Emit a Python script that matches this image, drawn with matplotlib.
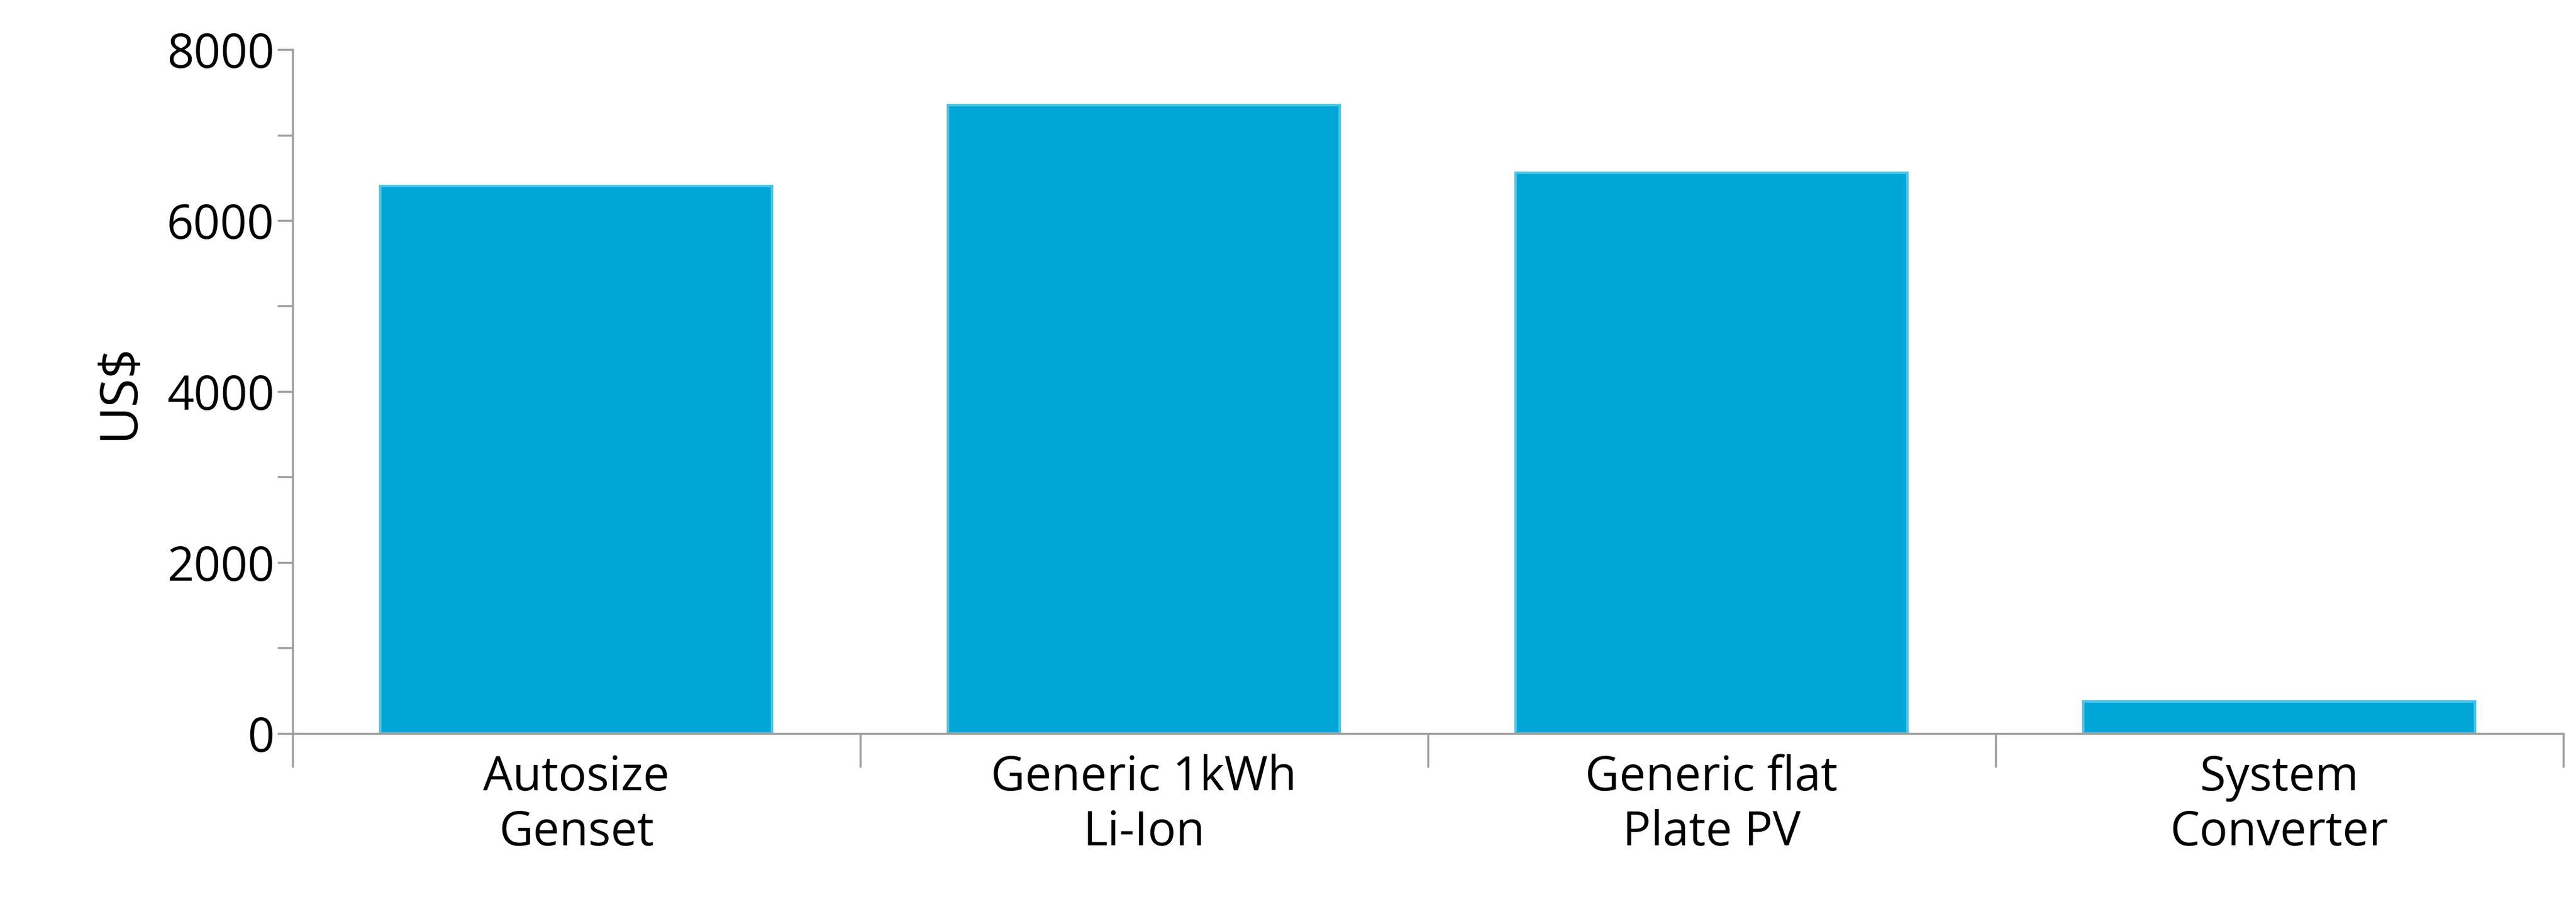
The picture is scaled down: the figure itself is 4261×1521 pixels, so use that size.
import numpy as np
import matplotlib.pyplot as plt
from matplotlib.ticker import MultipleLocator

plt.rcParams['font.family'] = ['Open Sans', 'DejaVu Sans']

categories = ["Autosize\nGenset", "Generic 1kWh\nLi-Ion", "Generic flat\nPlate PV", "System\nConverter"]
costs = [6400, 7350, 6560, 370]

fig = plt.figure(figsize=(42.61, 15.21), dpi=100)
ax = fig.add_axes([0.1135, 0.202, 0.8815, 0.744])

x = np.arange(len(categories))
ax.bar(x, costs, width=0.69, color='#00A6D6', edgecolor='#4FC3E6', linewidth=3)

ax.set_xlim(-0.5, len(categories) - 0.5)
ax.set_ylim(0, 8000)
ax.yaxis.set_major_locator(MultipleLocator(2000))
ax.yaxis.set_minor_locator(MultipleLocator(1000))
ax.set_yticks([0, 2000, 4000, 6000, 8000])
ax.tick_params(axis='y', which='both', length=18, width=2.5, color='#A0A0A0', labelsize=56)
ax.set_ylabel("US$", fontsize=62, labelpad=25)

# category dividers on x axis
ax.set_xticks(np.arange(-0.5, len(categories), 1.0))
ax.set_xticklabels([])
ax.tick_params(axis='x', which='major', length=40, width=2.5, color='#A0A0A0')
ax.set_xticks(x, minor=True)
ax.set_xticklabels(categories, minor=True, fontsize=56)
ax.tick_params(axis='x', which='minor', length=0, pad=25)

for s in ['top', 'right']:
    ax.spines[s].set_visible(False)
for s in ['left', 'bottom']:
    ax.spines[s].set_color('#A0A0A0')
    ax.spines[s].set_linewidth(2.5)

fig.savefig("out.png", dpi=100)
